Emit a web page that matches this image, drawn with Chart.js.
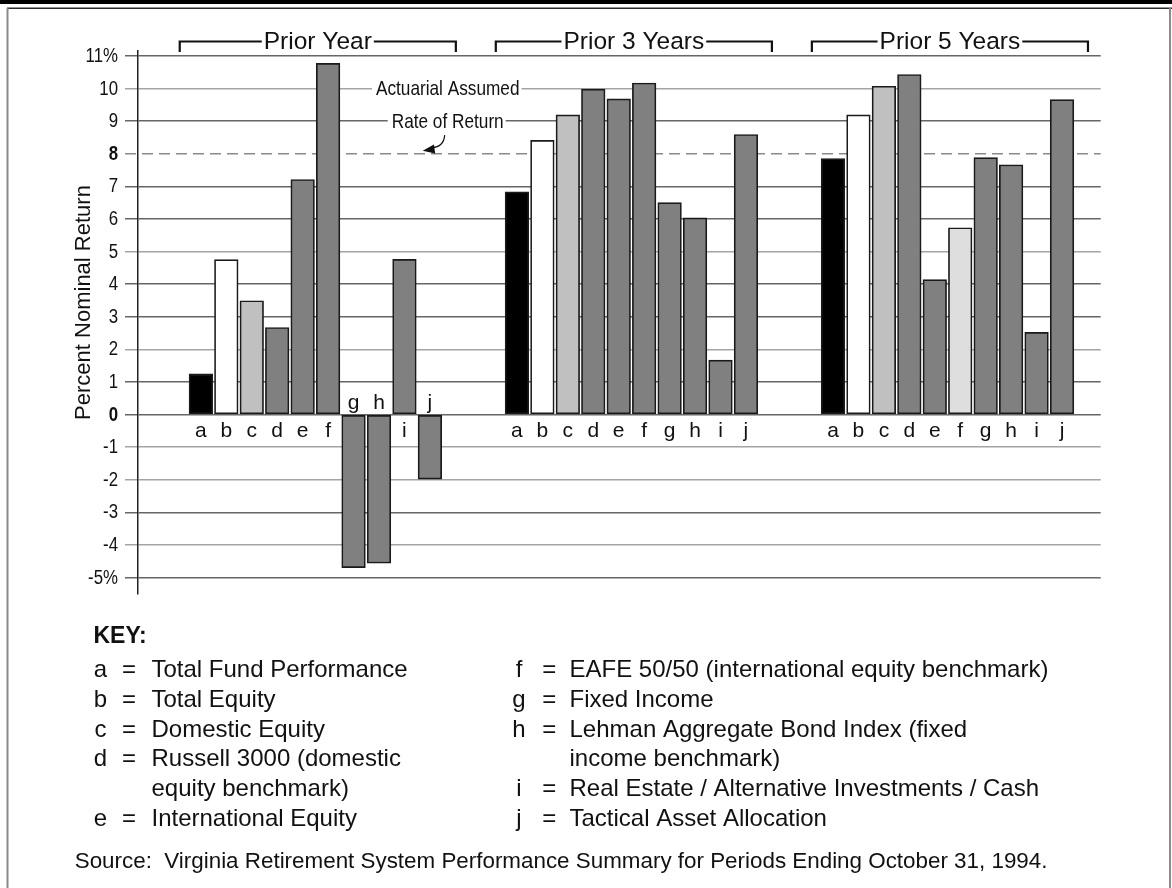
<!DOCTYPE html>
<html>
<head>
<meta charset="utf-8">
<title>Virginia Retirement System – Nominal Returns</title>
<script src="https://cdn.jsdelivr.net/npm/chart.js@4.4.1/dist/chart.umd.min.js"></script>
<style>
  html, body { margin: 0; padding: 0; background: #ffffff; }
  #wrap { position: relative; width: 1172px; height: 888px; }
  canvas { display: block; }
</style>
</head>
<body>
<div id="wrap"><canvas id="returns" width="1172" height="888"></canvas></div>
<script>
// ---- data -----------------------------------------------------------------
const CATEGORY_LETTERS = ['a', 'b', 'c', 'd', 'e', 'f', 'g', 'h', 'i', 'j'];
const PERIOD_LABELS = ['Prior Year', 'Prior 3 Years', 'Prior 5 Years'];

// percent nominal return, one value per category letter
const PRIOR_YEAR    = [1.25, 4.75, 3.49, 2.67, 7.21, 10.77, -4.70, -4.56, 4.76, -1.98];
const PRIOR_3_YEARS = [6.83, 8.41, 9.19, 9.98, 9.68, 10.17, 6.50, 6.03, 1.67, 8.59];
const PRIOR_5_YEARS = [7.85, 9.19, 10.07, 10.43, 4.14, 5.73, 7.88, 7.66, 2.52, 9.66];

const Y_TICK_LABELS = ['-5%', '-4', '-3', '-2', '-1', '0', '1', '2', '3', '4',
                       '5', '6', '7', '8', '9', '10', '11%'];
const Y_MIN_TICK = -5;

const ASSUMED_RATE = 8;
const ASSUMED_RATE_LABEL = ['Actuarial Assumed', 'Rate of Return'];
const AXIS_TITLE = 'Percent Nominal Return';

const KEY_TITLE = 'KEY:';
const KEY_LEFT = [
  ['a', 'Total Fund Performance'],
  ['b', 'Total Equity'],
  ['c', 'Domestic Equity'],
  ['d', 'Russell 3000 (domestic'],
  ['',  'equity benchmark)'],
  ['e', 'International Equity']
];
const KEY_RIGHT = [
  ['f', 'EAFE 50/50 (international equity benchmark)'],
  ['g', 'Fixed Income'],
  ['h', 'Lehman Aggregate Bond Index (fixed'],
  ['',  'income benchmark)'],
  ['i', 'Real Estate / Alternative Investments / Cash'],
  ['j', 'Tactical Asset Allocation']
];
const SOURCE_NOTE = 'Source:  Virginia Retirement System Performance Summary for Periods Ending October 31, 1994.';

const SERIES = [PRIOR_YEAR, PRIOR_3_YEARS, PRIOR_5_YEARS];

// ---- styling ----------------------------------------------------------------
const BLACK = '#000000', WHITE = '#ffffff', LIGHT = '#c0c0c0', MID = '#808080', PALE = '#dedede';
const FILLS = [
  [BLACK, WHITE, LIGHT, MID, MID, MID, MID, MID, MID, MID],
  [BLACK, WHITE, LIGHT, MID, MID, MID, MID, MID, MID, MID],
  [BLACK, WHITE, LIGHT, MID, MID, PALE, MID, MID, MID, MID]
];
const GROUP_STEP = 12.42;          // slot distance between the first bars of two periods
const ANNOTATION_X = 9.7;          // horizontal anchor of the assumed-rate note (slot units)
const TICK_LEN = 13;

const SANS = '"Liberation Sans", Arial, Helvetica, sans-serif';

function fontAvailable(name) {
  const c = document.createElement('canvas').getContext('2d');
  const probe = 'abcdefghijKLMNOPQR 0123456789 %/()';
  c.font = '40px monospace';
  const a = c.measureText(probe).width;
  c.font = '40px "' + name + '", monospace';
  const b = c.measureText(probe).width;
  return Math.abs(a - b) > 0.5;
}
const HAS_NARROW = fontAvailable('Liberation Sans Narrow');
const NARROW = '"Liberation Sans Narrow", "Arial Narrow", ' + SANS;

// condensed text: real narrow face when present, otherwise a horizontally squeezed sans
function narrowText(ctx, text, x, y, size, align, weight) {
  ctx.save();
  ctx.textAlign = align || 'left';
  if (HAS_NARROW) {
    ctx.font = (weight || 'normal') + ' ' + size + 'px ' + NARROW;
    ctx.fillText(text, x, y);
  } else {
    ctx.translate(x, y);
    ctx.scale(0.82, 1);
    ctx.font = (weight || 'normal') + ' ' + size + 'px ' + SANS;
    ctx.fillText(text, 0, 0);
  }
  ctx.restore();
}
function narrowWidth(ctx, text, size) {
  ctx.save();
  let w;
  if (HAS_NARROW) { ctx.font = size + 'px ' + NARROW; w = ctx.measureText(text).width; }
  else { ctx.font = size + 'px ' + SANS; w = ctx.measureText(text).width * 0.82; }
  ctx.restore();
  return w;
}

const LIGHT_GRID = new Set([10, 5, 2, -1, -2, -4]);

// ---- drawing extras ---------------------------------------------------------
const decorations = {
  id: 'decorations',
  beforeDatasetsDraw(chart) {
    const { ctx, chartArea, scales: { x, y } } = chart;
    ctx.save();

    // y tick labels in a condensed face, taken from the scale's own ticks
    ctx.fillStyle = '#111';
    ctx.textBaseline = 'middle';
    y.ticks.forEach(t => {
      const label = Y_TICK_LABELS[t.value - Y_MIN_TICK];
      if (label === undefined) return;
      const bold = t.value === 0 || t.value === ASSUMED_RATE;
      narrowText(ctx, label, chartArea.left - TICK_LEN - 7, y.getPixelForValue(t.value) + 0.5,
                 20.5, 'right', bold ? 'bold' : 'normal');
    });

    // dashed actuarial assumed rate line
    const yr = y.getPixelForValue(ASSUMED_RATE);
    ctx.strokeStyle = '#8a8a8a';
    ctx.lineWidth = 1.4;
    ctx.setLineDash([11, 6]);
    ctx.beginPath();
    ctx.moveTo(chartArea.left - TICK_LEN, yr);
    ctx.lineTo(chartArea.right, yr);
    ctx.stroke();
    ctx.setLineDash([]);

    // note sitting on the 10 and 9 grid lines
    const cx = x.getPixelForValue(ANNOTATION_X);
    ASSUMED_RATE_LABEL.forEach((line, i) => {
      const ly = y.getPixelForValue(10 - i);
      const w = narrowWidth(ctx, line, 21);
      ctx.fillStyle = '#ffffff';
      ctx.fillRect(cx - w / 2 - 4, ly - 11, w + 6, 22);
      ctx.fillStyle = '#111';
      narrowText(ctx, line, cx, ly + 1, 21, 'center');
    });

    // small curved arrow pointing at the dashed line
    const sx = cx - 3, sy = y.getPixelForValue(9) + 14;
    const tx = cx - 25, ty = yr - 3;
    const qx = sx - 1, qy = ty - 3;
    ctx.strokeStyle = '#111';
    ctx.lineWidth = 1.2;
    ctx.beginPath();
    ctx.moveTo(sx, sy);
    ctx.quadraticCurveTo(qx, qy, tx + 8, ty - 3);
    ctx.stroke();
    const ang = Math.atan2(ty - qy, tx - qx);
    const len = 12, half = 4.5;
    ctx.fillStyle = '#111';
    ctx.beginPath();
    ctx.moveTo(tx, ty);
    ctx.lineTo(tx - len * Math.cos(ang) + half * Math.sin(ang), ty - len * Math.sin(ang) - half * Math.cos(ang));
    ctx.lineTo(tx - len * Math.cos(ang) - half * Math.sin(ang), ty - len * Math.sin(ang) + half * Math.cos(ang));
    ctx.closePath();
    ctx.fill();
    ctx.restore();
  },
  afterDatasetsDraw(chart) {
    const { ctx, scales: { x, y } } = chart;
    const y0 = y.getPixelForValue(0);
    ctx.save();
    ctx.font = '21px ' + SANS;
    ctx.fillStyle = '#111';
    ctx.textAlign = 'center';
    ctx.textBaseline = 'alphabetic';
    SERIES.forEach((values, g) => {
      values.forEach((v, k) => {
        const px = x.getPixelForValue(g * GROUP_STEP + k);
        ctx.fillText(CATEGORY_LETTERS[k], px, v >= 0 ? y0 + 22 : y0 - 6);
      });
    });
    ctx.restore();
  },
  afterDraw(chart) {
    const { ctx, scales: { x } } = chart;
    ctx.save();

    // period brackets
    PERIOD_LABELS.forEach((label, g) => {
      const l = x.getPixelForValue(g * GROUP_STEP - 0.83);
      const r = x.getPixelForValue(g * GROUP_STEP + 10.02);
      const mid = (l + r) / 2;
      ctx.font = '24.5px ' + SANS;
      const w = ctx.measureText(label).width;
      const ly = 41.5;
      ctx.strokeStyle = '#111';
      ctx.lineWidth = 2.2;
      ctx.beginPath();
      ctx.moveTo(l, 52); ctx.lineTo(l, ly); ctx.lineTo(mid - w / 2 - 2, ly);
      ctx.moveTo(mid + w / 2 + 2, ly); ctx.lineTo(r, ly); ctx.lineTo(r, 52);
      ctx.stroke();
      ctx.fillStyle = '#111';
      ctx.textAlign = 'center';
      ctx.textBaseline = 'alphabetic';
      ctx.fillText(label, mid, 49);
    });

    // vertical axis title
    ctx.save();
    ctx.translate(90, 302.5);
    ctx.rotate(-Math.PI / 2);
    ctx.font = '22px ' + SANS;
    ctx.fillStyle = '#111';
    ctx.textAlign = 'center';
    ctx.textBaseline = 'alphabetic';
    ctx.fillText(AXIS_TITLE, 0, 0);
    ctx.restore();

    // key
    ctx.fillStyle = '#111';
    ctx.textBaseline = 'alphabetic';
    ctx.textAlign = 'left';
    ctx.font = 'bold 23px ' + SANS;
    ctx.fillText(KEY_TITLE, 93.5, 643);
    const rows = [677.3, 707, 736.7, 766.4, 796.1, 825.8];
    const cols = [
      { items: KEY_LEFT, letter: 100.5, eq: 129, text: 151.5 },
      { items: KEY_RIGHT, letter: 519, eq: 549.3, text: 569.5 }
    ];
    ctx.font = '24px ' + SANS;
    cols.forEach(col => {
      col.items.forEach(([letter, text], i) => {
        if (letter) {
          ctx.textAlign = 'center';
          ctx.fillText(letter, col.letter, rows[i]);
          ctx.fillText('=', col.eq, rows[i]);
        }
        ctx.textAlign = 'left';
        ctx.fillText(text, col.text, rows[i]);
      });
    });

    // source note
    ctx.font = '22.4px ' + SANS;
    ctx.textAlign = 'left';
    ctx.fillText(SOURCE_NOTE, 74.7, 868);

    // page frame
    ctx.fillStyle = '#000';
    ctx.fillRect(0, 0, 1172, 4);
    ctx.strokeStyle = '#2a2a2a';
    ctx.lineWidth = 1.5;
    ctx.beginPath(); ctx.moveTo(7, 8.25); ctx.lineTo(1172, 8.25); ctx.stroke();
    ctx.strokeStyle = '#8a8a8a';
    ctx.lineWidth = 2;
    ctx.beginPath();
    ctx.moveTo(7.5, 8); ctx.lineTo(7.5, 888);
    ctx.moveTo(1170, 8); ctx.lineTo(1170, 888);
    ctx.stroke();
    ctx.restore();
  }
};

// ---- chart ------------------------------------------------------------------
const datasets = PERIOD_LABELS.map((label, g) => ({
  label,
  data: SERIES[g].map((v, k) => ({ x: g * GROUP_STEP + k, y: v })),
  backgroundColor: FILLS[g],
  borderColor: '#1a1a1a',
  borderWidth: 1.7,
  borderSkipped: false,
  grouped: false,
  barThickness: 23.6
}));

new Chart(document.getElementById('returns'), {
  type: 'bar',
  data: { datasets },
  options: {
    responsive: false,
    animation: false,
    devicePixelRatio: 1,
    layout: { padding: { left: 0, top: 50.7, right: 71.3, bottom: 294 } },
    plugins: { legend: { display: false }, tooltip: { enabled: false } },
    scales: {
      x: {
        type: 'linear',
        offset: false,
        min: -2.47,
        max: 35.36,
        display: false,
        ticks: { includeBounds: false }
      },
      y: {
        type: 'linear',
        min: -5.506,
        max: 11.16,
        afterFit(scale) { scale.width = 138; },
        border: { display: true, color: '#222', width: 1.5 },
        grid: {
          lineWidth: 1.5,
          tickLength: TICK_LEN,
          color(c) {
            const v = c.tick ? c.tick.value : null;
            if (v === ASSUMED_RATE) return 'rgba(0,0,0,0)';
            return LIGHT_GRID.has(v) ? '#a4a4a4' : '#666666';
          }
        },
        ticks: {
          stepSize: 1,
          includeBounds: false,
          display: false
        }
      }
    }
  },
  plugins: [decorations]
});
</script>
</body>
</html>
